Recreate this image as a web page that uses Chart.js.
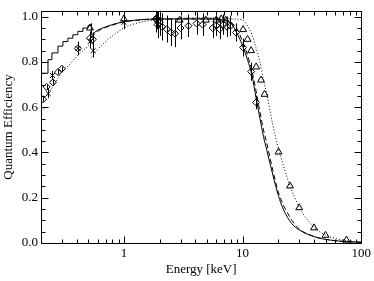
<!DOCTYPE html>
<html>
<head>
<meta charset="utf-8">
<script src="https://cdn.jsdelivr.net/npm/chart.js@4.4.0/dist/chart.umd.min.js"></script>
<style>
  html, body { margin: 0; padding: 0; background: #fff; }
  #wrap { width: 374px; height: 281px; }
</style>
</head>
<body>
<div id="wrap"><canvas id="qe"></canvas></div>
<script>
// tick labels
const xTickLabels = [1, 10, 100];
const yTickLabels = [0.0, 0.2, 0.4, 0.6, 0.8, 1.0];

// solid model, low energy staircase
const stepE  = [0.2, 0.229, 0.247, 0.278, 0.306, 0.337, 0.371, 0.409, 0.451, 0.497, 0.532, 0.532];
const stepQE = [0.75, 0.81, 0.84, 0.87, 0.89, 0.905, 0.92, 0.935, 0.95, 0.96, 0.97, 0.92];

// solid model above the O edge
const solidE  = [0.532, 0.6, 0.7, 0.8, 1.0, 1.5, 2, 3, 5, 7, 8, 8.8, 9.5, 10, 11, 12, 13, 14, 15, 16, 18, 20, 22, 26, 30, 40, 50, 70, 100];
const solidQE = [0.92, 0.94, 0.955, 0.965, 0.978, 0.988, 0.99, 0.99, 0.99, 0.985, 0.97, 0.935, 0.9, 0.87, 0.81, 0.74, 0.64, 0.55, 0.47, 0.41, 0.3, 0.21, 0.15, 0.085, 0.058, 0.028, 0.016, 0.007, 0.003];

// dashed model, almost on top of the solid one
const dashE  = [0.532, 0.6, 0.7, 0.8, 1.0, 1.5, 2, 4, 6, 8, 9, 10, 11, 12, 13, 14, 15, 16, 18, 20, 25, 30, 40, 50, 70, 100];
const dashQE = [0.91, 0.935, 0.952, 0.963, 0.977, 0.987, 0.99, 0.99, 0.99, 0.975, 0.945, 0.89, 0.83, 0.76, 0.67, 0.58, 0.5, 0.44, 0.32, 0.225, 0.115, 0.062, 0.029, 0.016, 0.007, 0.003];

// dotted model (three pieces, split at the edges)
const dotE1  = [0.2, 0.222];
const dotQE1 = [0.585, 0.6];
const dotE2  = [0.222, 0.25, 0.28, 0.3, 0.35, 0.4, 0.45, 0.5, 0.532];
const dotQE2 = [0.65, 0.69, 0.73, 0.755, 0.79, 0.825, 0.85, 0.87, 0.885];
const dotE3  = [0.532, 0.6, 0.7, 0.8, 1.0, 1.3, 1.8, 2.5, 4, 6, 8, 10, 11, 12, 13, 14, 15, 16, 18, 20, 22, 25, 30, 40, 50, 70, 100];
const dotQE3 = [0.82, 0.855, 0.89, 0.915, 0.95, 0.972, 0.985, 0.99, 0.995, 0.995, 0.99, 0.985, 0.96, 0.92, 0.86, 0.8, 0.72, 0.66, 0.52, 0.42, 0.345, 0.255, 0.158, 0.07, 0.035, 0.013, 0.004];

// measurements
const diaE   = [0.208, 0.223, 0.252, 0.278, 0.3, 0.409, 0.517, 0.547, 1.85, 1.92, 2.0, 2.1, 2.3, 2.5, 2.7, 3.0, 3.5, 4.1, 4.6, 5.6, 6.0, 6.4, 6.9, 7.4, 7.9, 8.8, 10.1, 11.8, 13.0];
const diaQE  = [0.635, 0.69, 0.71, 0.755, 0.77, 0.86, 0.905, 0.9, 0.99, 0.965, 0.975, 0.955, 0.945, 0.93, 0.925, 0.95, 0.96, 0.97, 0.965, 0.95, 0.96, 0.945, 0.965, 0.955, 0.96, 0.93, 0.864, 0.757, 0.621];
const diaErr = [0.01, 0.01, 0.01, 0.01, 0.01, 0.02, 0.03, 0.03, 0.06, 0.06, 0.06, 0.06, 0.06, 0.06, 0.06, 0.05, 0.05, 0.05, 0.05, 0.045, 0.045, 0.045, 0.045, 0.045, 0.045, 0.04, 0.04, 0.04, 0.03];

const triE  = [0.517, 1.0, 1.9, 2.95, 4.9, 6.0, 6.6, 7.2, 10.1, 11.0, 11.8, 13.0, 14.3, 15.3, 20.1, 25.1, 30, 40, 50, 75];
const triQE = [0.95, 0.99, 0.995, 0.985, 0.985, 0.985, 0.99, 0.985, 0.943, 0.9, 0.85, 0.778, 0.72, 0.657, 0.402, 0.252, 0.156, 0.067, 0.034, 0.013];

const crsE   = [0.23, 0.25, 0.41, 0.52, 0.55, 1.0, 1.9];
const crsQE  = [0.66, 0.74, 0.86, 0.89, 0.85, 0.975, 0.985];
const crsErr = [0.02, 0.02, 0.03, 0.03, 0.03, 0.03, 0.04];

const pts = (xs, ys) => xs.map((e, i) => ({ x: e, y: ys[i] }));

function curve(xs, ys, dash) {
  return {
    data: pts(xs, ys), borderColor: '#000', borderWidth: 1, borderDash: dash,
    pointRadius: 0, cubicInterpolationMode: 'monotone', fill: false
  };
}
function marks(xs, ys, style, r, errs) {
  return {
    data: pts(xs, ys), showLine: false, pointStyle: style, pointRadius: r,
    pointBorderColor: '#000', pointBackgroundColor: 'rgba(0,0,0,0)', pointBorderWidth: 1,
    errs: errs
  };
}

// inward ticks on all four sides, the box, and error bars
const frame = {
  id: 'frame',
  beforeDatasetsDraw(chart) {
    const { ctx, chartArea: a, scales: { x, y } } = chart;
    ctx.save();
    ctx.beginPath();
    ctx.rect(a.left, a.top, a.right - a.left, a.bottom - a.top);
    ctx.clip();
    ctx.strokeStyle = '#000';
    ctx.lineWidth = 1;
    chart.data.datasets.forEach(ds => {
      if (!ds.errs) return;
      ds.data.forEach((p, i) => {
        const px = Math.round(x.getPixelForValue(p.x)) + 0.5;
        ctx.beginPath();
        ctx.moveTo(px, y.getPixelForValue(p.y - ds.errs[i]));
        ctx.lineTo(px, y.getPixelForValue(p.y + ds.errs[i]));
        ctx.stroke();
      });
    });
    ctx.restore();
  },
  afterDraw(chart) {
    const { ctx, chartArea: a, scales: { x, y } } = chart;
    ctx.save();
    ctx.strokeStyle = '#000';
    ctx.lineWidth = 1;
    const L = Math.round(a.left) + 0.5, R = Math.round(a.right) + 0.5;
    const T = Math.round(a.top) + 0.5, B = Math.round(a.bottom) + 0.5;
    ctx.strokeRect(L, T, R - L, B - T);
    ctx.beginPath();
    [0.1, 1, 10].forEach(d => {
      for (let k = 1; k <= 9; k++) {
        const v = k * d;
        if (v < 0.2 || v > 100) continue;
        const px = Math.round(x.getPixelForValue(v)) + 0.5;
        const len = k === 1 ? 7 : 4;
        ctx.moveTo(px, B); ctx.lineTo(px, B - len);
        ctx.moveTo(px, T); ctx.lineTo(px, T + len);
      }
    });
    for (let i = 0; i <= 20; i++) {
      const v = i * 0.05;
      const py = Math.round(y.getPixelForValue(v)) + 0.5;
      const len = i % 4 === 0 ? 7 : 4;
      ctx.moveTo(L, py); ctx.lineTo(L + len, py);
      ctx.moveTo(R, py); ctx.lineTo(R - len, py);
    }
    ctx.stroke();
    ctx.restore();
  }
};

const serif = { family: "'Liberation Serif', 'DejaVu Serif', serif", size: 13 };

new Chart(document.getElementById('qe'), {
  type: 'line',
  data: {
    datasets: [
      Object.assign(curve(stepE, stepQE, []), { stepped: 'before', cubicInterpolationMode: 'default', tension: 0 }),
      curve(solidE, solidQE, []),
      curve(dashE, dashQE, [5, 3]),
      curve(dotE1, dotQE1, [1, 2]),
      curve(dotE2, dotQE2, [1, 2]),
      curve(dotE3, dotQE3, [1, 2]),
      marks(diaE, diaQE, 'rectRot', 3.5, diaErr),
      marks(triE, triQE, 'triangle', 4, null),
      marks(crsE, crsQE, 'crossRot', 3.5, crsErr)
    ]
  },
  options: {
    responsive: true,
    maintainAspectRatio: false,
    animation: false,
    layout: { padding: { top: 4, right: 11, left: 0, bottom: 0 } },
    plugins: { legend: { display: false }, tooltip: { enabled: false } },
    scales: {
      x: {
        type: 'logarithmic', min: 0.2, max: 100,
        grid: { display: false, drawTicks: false },
        border: { display: false },
        afterBuildTicks: s => { s.ticks = xTickLabels.map(v => ({ value: v })); },
        afterFit: s => { s.height = 38; },
        ticks: { color: '#000', font: serif, padding: 3, maxRotation: 0, autoSkip: false, callback: v => String(v) },
        title: { display: true, text: 'Energy [keV]', color: '#000', font: serif, padding: { top: 0, bottom: 4 } }
      },
      y: {
        min: 0, max: 1.026,
        grid: { display: false, drawTicks: false },
        border: { display: false },
        afterBuildTicks: s => { s.ticks = yTickLabels.map(v => ({ value: v })); },
        afterFit: s => { s.width = 41; },
        ticks: { color: '#000', font: serif, padding: 3, callback: v => Number(v).toFixed(1) },
        title: { display: true, text: 'Quantum Efficiency', color: '#000', font: serif, padding: { top: 1, bottom: 0 } }
      }
    }
  },
  plugins: [frame]
});
</script>
</body>
</html>
